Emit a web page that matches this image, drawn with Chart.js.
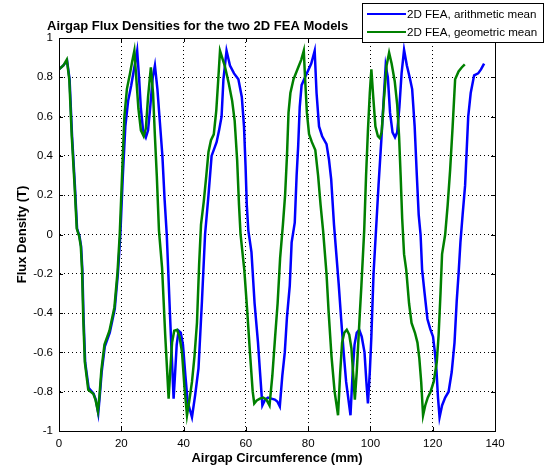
<!DOCTYPE html>
<html>
<head>
<meta charset="utf-8">
<title>Airgap Flux Densities</title>
<script src="https://cdn.jsdelivr.net/npm/chart.js@4.4.1/dist/chart.umd.min.js"></script>
<style>
  html, body { margin: 0; padding: 0; background: #fff; }
  canvas { display: block; }
</style>
</head>
<body>
<canvas id="fluxChart" width="551" height="467"></canvas>
<script>
// position along the airgap (mm) and flux density (T), arithmetic-mean model
const arithX = [0, 1.4, 2.6, 3.4, 4.2, 5.1, 5.8, 6.6, 7.1, 7.5, 7.9, 8.4, 9.5, 11.1, 11.8, 12.6, 13.1, 13.7, 14.7, 16.3,
  17.9, 18.9, 19.7, 20.5, 21.3, 22.2, 23.2, 24.3, 25.1, 25.7, 26.3, 27, 27.9, 28.6, 29.3, 30.1, 30.8, 31.6, 32.4, 33.2,
  33.9, 34.6, 35.7, 36.8, 37.3, 37.8, 38.4, 39.1, 39.8, 40.6, 41.3, 42.7, 43.7, 44.8, 45.9, 46.9, 48, 49, 50.6, 51.4,
  52.2, 52.8, 53.8, 54.9, 56.2, 57.6, 58.7, 59.4, 59.9, 60.3, 60.8, 61.8, 62.8, 63.9, 64.5, 65.3, 66.2, 67.1, 68.2, 69.3,
  70.1, 70.9, 71.7, 72.5, 73.2, 74.1, 74.7, 75.7, 76.3, 76.8, 77.3, 77.9, 79, 80, 81, 82.1, 82.7, 83.5, 84.5, 85.9,
  86.7, 87.4, 88.3, 89, 89.8, 90.6, 91.4, 92.2, 93.6, 94.3, 94.9, 95.6, 96.4, 97.2, 98.1, 98.7, 99.2, 99.8, 100.3, 101,
  102, 102.6, 103.5, 104.3, 104.9, 105.6, 106.3, 107.1, 107.9, 108.6, 109.3, 110, 110.8, 111.7, 112.6, 113.4, 114.2, 114.9, 115.5, 116.1,
  116.6, 117.4, 118.3, 119.2, 120.1, 120.7, 121.2, 121.7, 122.2, 123, 124, 125.1, 126.1, 127, 127.7, 128.3, 128.9, 129.6, 130.4, 131.4,
  132.2, 133.3, 134.6, 135.5, 136.5];
const arithY = [0.84, 0.86, 0.885, 0.79, 0.5, 0.25, 0.03, -0.01, -0.06, -0.18, -0.43, -0.65, -0.78, -0.81, -0.84, -0.91, -0.82, -0.7, -0.57, -0.5,
  -0.38, -0.2, 0, 0.3, 0.55, 0.68, 0.76, 0.86, 0.935, 0.8, 0.64, 0.53, 0.495, 0.53, 0.65, 0.8, 0.86, 0.74, 0.57, 0.4,
  0.18, 0, -0.43, -0.835, -0.7, -0.56, -0.49, -0.5, -0.56, -0.72, -0.85, -0.93, -0.82, -0.68, -0.34, 0, 0.2, 0.4, 0.47, 0.53,
  0.6, 0.79, 0.935, 0.86, 0.82, 0.79, 0.7, 0.55, 0.35, 0.15, 0.02, -0.09, -0.35, -0.55, -0.69, -0.87, -0.84, -0.83, -0.835, -0.84,
  -0.85, -0.875, -0.72, -0.6, -0.42, -0.26, -0.04, 0.06, 0.3, 0.45, 0.65, 0.76, 0.8, 0.835, 0.87, 0.935, 0.72, 0.55, 0.5, 0.46,
  0.38, 0.28, 0.05, -0.09, -0.25, -0.43, -0.6, -0.75, -0.92, -0.7, -0.56, -0.5, -0.485, -0.52, -0.6, -0.75, -0.86, -0.7, -0.52, -0.2,
  0.08, 0.25, 0.48, 0.7, 0.86, 0.8, 0.62, 0.52, 0.495, 0.52, 0.65, 0.82, 0.94, 0.86, 0.8, 0.74, 0.55, 0.3, 0.1, 0,
  -0.18, -0.3, -0.43, -0.48, -0.52, -0.6, -0.69, -0.83, -0.93, -0.87, -0.83, -0.8, -0.7, -0.55, -0.34, -0.2, -0.04, 0.1, 0.25, 0.6,
  0.72, 0.81, 0.82, 0.84, 0.87];

// geometric-mean model
const geomX = [0, 1.4, 2.5, 3.3, 4.1, 5, 5.7, 6.5, 7, 7.4, 7.8, 8.3, 9.4, 11, 11.7, 12.5, 13, 13.6, 14.6, 16.2,
  17.8, 18.8, 19.5, 20.3, 21, 21.8, 22.8, 23.5, 24.2, 24.8, 25.5, 26.3, 27.2, 27.9, 28.6, 29.5, 30.2, 30.8, 31.4, 32.1,
  33.1, 34.1, 35.2, 35.7, 36.3, 37, 37.9, 38.7, 39.5, 40.3, 41.1, 41.8, 42.7, 43.5, 44.3, 45, 45.6, 46.5, 47.3, 48,
  48.8, 49.7, 50.5, 51.1, 51.7, 53.2, 54.5, 55.6, 56.4, 57.2, 57.8, 58.3, 59.5, 60.4, 61.4, 62.2, 62.7, 63.5, 64.5, 65.6,
  66.6, 67.6, 68.5, 69.4, 70.2, 71, 71.9, 72.6, 73.2, 73.7, 74.3, 75.3, 76.8, 77.8, 78.6, 79, 79.6, 80.3, 81.2, 82.3,
  83.2, 84, 84.8, 85.9, 86.6, 87.5, 88.5, 89.6, 90.3, 90.9, 91.6, 92.4, 93.2, 93.9, 94.5, 95, 95.6, 96.1, 96.6, 97.1,
  98, 98.6, 99.2, 99.8, 100.3, 100.9, 101.6, 102.4, 103, 103.6, 104.3, 105.2, 106, 106.8, 107.8, 108.6, 109.2, 109.7, 110.2, 110.8,
  111.5, 112.4, 113.2, 114.3, 115.1, 115.7, 116.3, 116.9, 117.6, 118.4, 119.3, 120.3, 121.3, 121.9, 122.5, 123, 124, 124.8, 125.6, 126.4,
  127.2, 128.3, 129.3, 130.3];
const geomY = [0.84, 0.86, 0.89, 0.79, 0.5, 0.25, 0.03, -0.01, -0.06, -0.18, -0.43, -0.65, -0.79, -0.81, -0.84, -0.9, -0.82, -0.69, -0.56, -0.49,
  -0.37, -0.19, 0, 0.32, 0.6, 0.74, 0.82, 0.88, 0.935, 0.8, 0.64, 0.53, 0.5, 0.54, 0.7, 0.85, 0.72, 0.5, 0.3, 0.02,
  -0.17, -0.51, -0.835, -0.7, -0.55, -0.49, -0.485, -0.52, -0.6, -0.78, -0.92, -0.85, -0.75, -0.62, -0.45, -0.15, 0.05, 0.17, 0.3, 0.42,
  0.48, 0.51, 0.63, 0.78, 0.935, 0.86, 0.77, 0.68, 0.58, 0.38, 0.15, 0, -0.18, -0.38, -0.62, -0.8, -0.86, -0.845, -0.835, -0.83,
  -0.84, -0.87, -0.72, -0.52, -0.35, -0.12, 0.05, 0.2, 0.4, 0.62, 0.72, 0.79, 0.85, 0.89, 0.935, 0.8, 0.62, 0.51, 0.47, 0.43,
  0.3, 0.15, 0.02, -0.2, -0.4, -0.62, -0.8, -0.92, -0.7, -0.55, -0.5, -0.485, -0.51, -0.58, -0.72, -0.84, -0.7, -0.55, -0.4, -0.26,
  0.02, 0.3, 0.53, 0.72, 0.84, 0.7, 0.55, 0.5, 0.49, 0.52, 0.68, 0.86, 0.925, 0.87, 0.78, 0.66, 0.5, 0.3, 0.08, -0.1,
  -0.18, -0.35, -0.45, -0.5, -0.55, -0.63, -0.75, -0.92, -0.87, -0.83, -0.8, -0.75, -0.65, -0.51, -0.3, -0.1, 0, 0.15, 0.33, 0.55,
  0.79, 0.83, 0.85, 0.866];

const seriesNames = ['2D FEA, arithmetic mean', '2D FEA, geometric mean'];
const seriesColors = ['#0000ff', '#008000'];

const xTicks = [0, 20, 40, 60, 80, 100, 120, 140];
const yTickLabels = ['-1', '-0.8', '-0.6', '-0.4', '-0.2', '0', '0.2', '0.4', '0.6', '0.8', '1'];

const chartTitle = 'Airgap Flux Densities for the two 2D FEA Models';
const xTitle = 'Airgap Circumference (mm)';
const yTitle = 'Flux Density (T)';

const FONT = "'Liberation Sans', Arial, Helvetica, sans-serif";
Chart.defaults.font.family = FONT;
Chart.defaults.color = '#000';

function toPoints(xs, ys) {
  return xs.map((x, i) => ({ x: x, y: ys[i] }));
}

// matlab-like frame: closed box, inward ticks, title, axis labels and legend box
const frame = {
  id: 'frame',
  afterDraw(chart) {
    const ctx = chart.ctx;
    const a = chart.chartArea;
    const sx = chart.scales.x, sy = chart.scales.y;
    ctx.save();
    ctx.strokeStyle = '#000';
    ctx.lineWidth = 1;
    ctx.strokeRect(Math.round(a.left) + 0.5, Math.round(a.top) + 0.5,
      Math.round(a.right - a.left), Math.round(a.bottom - a.top));

    ctx.beginPath();
    xTicks.forEach(v => {
      const px = Math.round(sx.getPixelForValue(v)) + 0.5;
      ctx.moveTo(px, a.bottom); ctx.lineTo(px, a.bottom - 4);
      ctx.moveTo(px, a.top); ctx.lineTo(px, a.top + 4);
    });
    yTickLabels.forEach((t, i) => {
      const py = Math.round(sy.getPixelForValue(-1 + i * 0.2)) + 0.5;
      ctx.moveTo(a.left, py); ctx.lineTo(a.left + 4, py);
      ctx.moveTo(a.right, py); ctx.lineTo(a.right - 4, py);
    });
    ctx.stroke();

    ctx.fillStyle = '#000';
    ctx.font = 'bold 13px ' + FONT;
    ctx.textBaseline = 'alphabetic';
    ctx.textAlign = 'left';
    ctx.fillText(chartTitle, 47, 30);

    ctx.textAlign = 'center';
    ctx.fillText(xTitle, (a.left + a.right) / 2, 462);

    ctx.save();
    ctx.translate(26, (a.top + a.bottom) / 2);
    ctx.rotate(-Math.PI / 2);
    ctx.fillText(yTitle, 0, 0);
    ctx.restore();

    // legend
    const lx = 362.5, ly = 3.5, lw = 181, lh = 39;
    ctx.fillStyle = '#fff';
    ctx.fillRect(lx, ly, lw, lh);
    ctx.strokeRect(lx, ly, lw, lh);
    ctx.font = '11.6px ' + FONT;
    ctx.textAlign = 'left';
    ctx.textBaseline = 'middle';
    seriesNames.forEach((name, i) => {
      const y = 14 + i * 18;
      ctx.strokeStyle = seriesColors[i];
      ctx.lineWidth = 2;
      ctx.beginPath();
      ctx.moveTo(367, y); ctx.lineTo(406, y);
      ctx.stroke();
      ctx.fillStyle = '#000';
      ctx.fillText(name, 407, y + 1);
    });
    ctx.restore();
  }
};

new Chart(document.getElementById('fluxChart'), {
  type: 'line',
  data: {
    datasets: [
      { label: seriesNames[0], data: toPoints(arithX, arithY), borderColor: seriesColors[0], order: 2 },
      { label: seriesNames[1], data: toPoints(geomX, geomY), borderColor: seriesColors[1], order: 1 }
    ]
  },
  options: {
    responsive: false,
    devicePixelRatio: 1,
    animation: false,
    layout: { padding: { left: 0, right: 56, top: 38, bottom: 0 } },
    elements: {
      point: { radius: 0 },
      line: { tension: 0, borderWidth: 2.5, fill: false }
    },
    plugins: {
      legend: { display: false },
      title: { display: false },
      tooltip: { enabled: false }
    },
    scales: {
      x: {
        type: 'linear',
        min: 0, max: 140,
        afterFit: s => { s.height = 36; },
        afterBuildTicks: s => { s.ticks = xTicks.map(v => ({ value: v })); },
        ticks: { color: '#000', font: { size: 11.5 }, padding: 6, maxRotation: 0 },
        grid: { color: '#000', lineWidth: 1, drawTicks: false },
        border: { display: true, color: '#000', width: 1, dash: [1, 3] }
      },
      y: {
        type: 'linear',
        min: -1, max: 1,
        afterFit: s => { s.width = 59; },
        afterBuildTicks: s => { s.ticks = yTickLabels.map((t, i) => ({ value: -1 + i * 0.2 })); },
        ticks: {
          color: '#000', font: { size: 11.5 }, padding: 6,
          callback: (v) => yTickLabels[Math.round((v + 1) / 0.2)]
        },
        grid: { color: '#000', lineWidth: 1, drawTicks: false },
        border: { display: true, color: '#000', width: 1, dash: [1, 3] }
      }
    }
  },
  plugins: [frame]
});
</script>
</body>
</html>
